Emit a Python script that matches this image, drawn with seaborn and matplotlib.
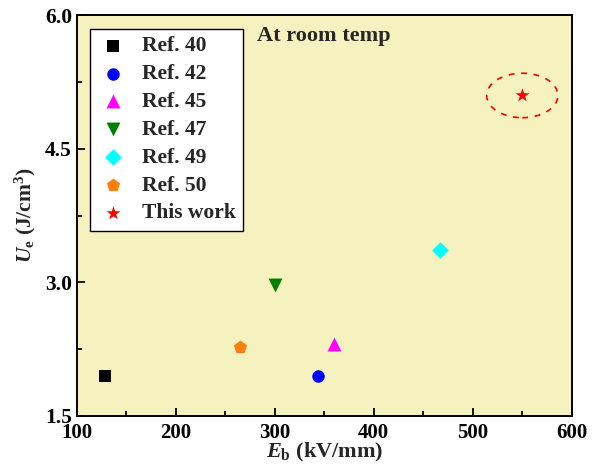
import matplotlib
matplotlib.use("Agg")
import matplotlib.pyplot as plt
from matplotlib.patches import Ellipse
from matplotlib.ticker import MultipleLocator, FormatStrFormatter
import seaborn as sns
import pandas as pd

# Breakdown strength (kV/mm) and recoverable energy density (J/cm3)
labels = ["Ref. 40", "Ref. 42", "Ref. 45", "Ref. 47", "Ref. 49", "Ref. 50", "This work"]
eb_values = [128, 344, 360, 300, 467, 265, 550]
ue_values = [1.95, 1.94, 2.31, 2.97, 3.36, 2.27, 5.10]
colors = ["black", "blue", "magenta", "green", "cyan", "#ff7f0e", "red"]
markers = ["s", "o", "^", "v", "D", "p", "*"]
marker_sizes = [8, 9, 10, 10, 8.5, 10, 10.5]

df = pd.DataFrame({"Eb": eb_values, "Ue": ue_values, "label": labels})

sns.set_theme(style="ticks")
plt.rcParams["font.family"] = ["Liberation Serif", "DejaVu Serif"]
plt.rcParams["font.weight"] = "bold"
plt.rcParams["mathtext.fontset"] = "custom"
plt.rcParams["mathtext.rm"] = "Liberation Serif:bold"
plt.rcParams["mathtext.it"] = "Liberation Serif:italic:bold"
plt.rcParams["mathtext.bf"] = "Liberation Serif:bold"

fig = plt.figure(figsize=(6.0, 4.68), dpi=100)
ax = fig.add_axes([0.128, 0.112, 0.825, 0.855])
ax.set_facecolor("#f6f2c0")

for i, lab in enumerate(labels):
    sub = df[df["label"] == lab]
    sns.scatterplot(data=sub, x="Eb", y="Ue", ax=ax, marker=markers[i],
                    color=colors[i], s=marker_sizes[i] ** 2, linewidth=0,
                    label=lab, zorder=3)

# Dashed ring around this work's point
ax.add_patch(Ellipse((eb_values[-1], ue_values[-1]), 72, 0.5, fill=False,
                     edgecolor="red", linewidth=1.2, linestyle=(0, (3.5, 4)),
                     zorder=2))

ax.set_xlim(100, 600)
ax.set_ylim(1.5, 6.0)
ax.xaxis.set_major_locator(MultipleLocator(100))
ax.xaxis.set_minor_locator(MultipleLocator(50))
ax.yaxis.set_major_locator(MultipleLocator(1.5))
ax.yaxis.set_minor_locator(MultipleLocator(0.75))
ax.yaxis.set_major_formatter(FormatStrFormatter("%.1f"))
ax.tick_params(which="both", direction="in", top=False, right=False,
               width=1.3, colors="black", labelsize=15.5)
ax.tick_params(axis="x", which="major", pad=5, labelsize=15)
ax.tick_params(axis="y", which="major", pad=3.5)
ax.tick_params(which="major", length=6)
ax.tick_params(which="minor", length=3.5)
for lbl in ax.get_xticklabels() + ax.get_yticklabels():
    lbl.set_fontweight("bold")
for sp in ax.spines.values():
    sp.set_visible(True)
    sp.set_linewidth(1.4)
    sp.set_color("black")

ax.set_xlabel(r"$\mathit{E}_\mathrm{b}$ (kV/mm)", fontsize=16,
              fontweight="bold", labelpad=-1)
ax.set_ylabel(r"$\mathit{U}_\mathrm{e}$ (J/cm$^\mathrm{3}$)", fontsize=15.5,
              fontweight="bold", labelpad=5)

ax.text(0.364, 0.935, "At room temp", transform=ax.transAxes, fontsize=16,
        fontweight="bold", va="baseline", ha="left")

leg = ax.legend(loc="upper left", bbox_to_anchor=(0.026, 0.9665),
                prop={"family": "Liberation Serif", "weight": "bold", "size": 15.5},
                frameon=True, fancybox=False, edgecolor="black",
                framealpha=1, labelspacing=0.36, handletextpad=0.63,
                borderpad=0.35, handlelength=1.44, borderaxespad=0)
leg.get_frame().set_linewidth(1.0)

fig.savefig("out.png", dpi=100, facecolor="white")
